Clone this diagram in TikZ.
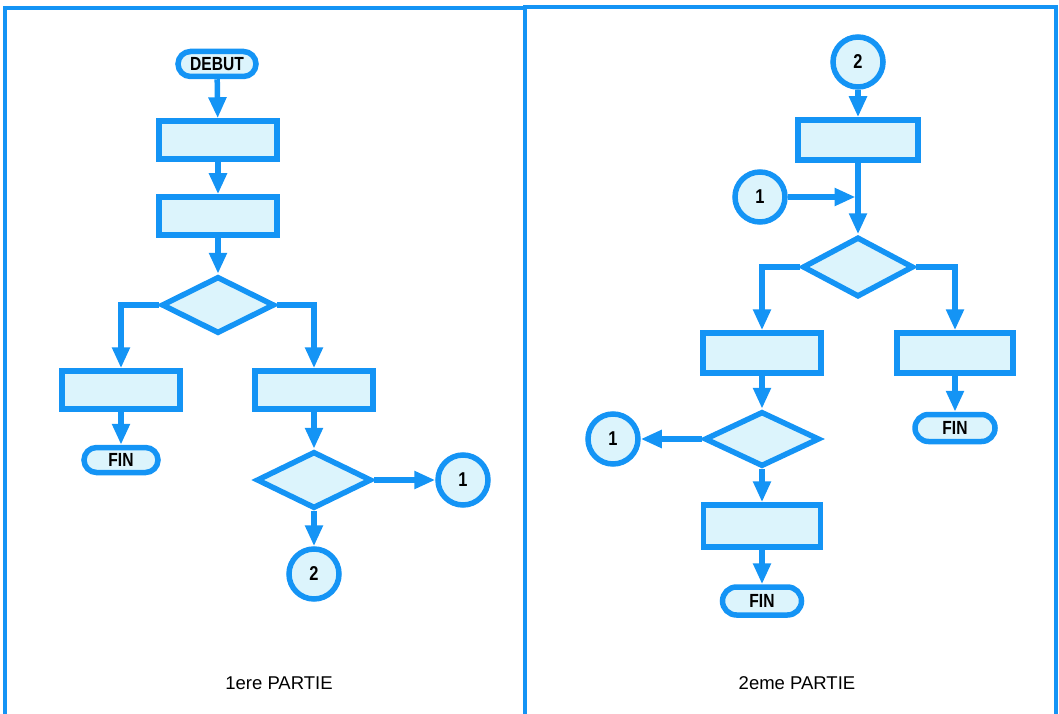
\documentclass[tikz,border=0pt]{standalone}
\usepackage{fontspec}
\setmainfont{Liberation Sans}
\newfontfamily\labfont[FakeStretch=0.82]{Liberation Sans}
\usetikzlibrary{shapes.geometric,shapes.misc,arrows.meta}
\definecolor{fcblue}{RGB}{20,148,245}
\definecolor{fcfill}{RGB}{220,244,252}
\begin{document}
\begin{tikzpicture}[x=1pt,y=-1pt,
  flow/.style={draw=fcblue,line width=5.5pt,fill=fcfill},
  procbox/.style={flow,rectangle,minimum width=118pt,minimum height=38pt,inner sep=0pt},
  decision/.style={flow,diamond,inner sep=0pt,minimum width=113pt,minimum height=57pt},
  term/.style={flow,rounded rectangle,inner sep=0pt,minimum height=25pt,
    font=\labfont\bfseries\fontsize{19}{19}\selectfont},
  conn/.style={flow,circle,minimum size=50pt,inner sep=0pt,
    font=\labfont\bfseries\fontsize{20}{20}\selectfont},
  arr/.style={draw=fcblue,line width=5.5pt,-{Triangle[length=21pt,width=17pt]}},
  frame/.style={draw=fcblue,line width=4.5pt,line join=miter},
  caption/.style={font=\fontsize{18.5}{18.5}\selectfont}
]
\useasboundingbox (0,0) rectangle (1059,714);
% frame
\draw[frame] (5,714) -- (5,8) -- (525,8);
\draw[frame] (525,714) -- (525,7) -- (1056,7) -- (1056,714);

% ---- 1ere partie ----
\node[term,minimum width=78pt] (debut) at (217,64) {DEBUT};
\node[procbox] (b1) at (218,140) {};
\node[procbox] (b2) at (218,216) {};
\node[decision] (d1) at (218,305) {};
\node[procbox] (b3) at (121,390) {};
\node[procbox] (b4) at (314,390) {};
\node[term,minimum width=74pt] (fin1) at (121,460) {FIN};
\node[decision,minimum width=115pt] (d2) at (314,480) {};
\node[conn] (c1) at (463,480) {1};
\node[conn] (c2) at (314,574) {2};
\node[caption] (cap1) at (279,683) {1ere PARTIE};

\draw[arr] (debut) -- (b1);
\draw[arr] (b1) -- (b2);
\draw[arr] (b2) -- (d1.north);
\draw[arr] (d1.west) -| (b3.north);
\draw[arr] (d1.east) -| (b4.north);
\draw[arr] (b3) -- (fin1);
\draw[arr] (b4) -- (d2.north);
\draw[arr] (d2.east) -- (c1);
\draw[arr] (d2.south) -- (c2);

% ---- 2eme partie ----
\node[conn] (r2) at (858,62) {2};
\node[procbox,minimum width=120pt,minimum height=40pt] (b5) at (858,140) {};
\node[conn] (r1) at (760,197) {1};
\coordinate (j) at (858,197);
\node[decision,minimum width=111pt,minimum height=60pt] (d3) at (858,267) {};
\node[procbox,minimum height=40pt] (b6) at (762,353) {};
\node[procbox,minimum width=116pt,minimum height=40pt] (b7) at (955,353) {};
\node[term,minimum width=80pt,minimum height=27pt] (fin2) at (955,428) {FIN};
\node[decision,minimum width=115pt,minimum height=55pt] (d4) at (762,439) {};
\node[conn] (r1b) at (613,439) {1};
\node[procbox,minimum width=117pt,minimum height=42pt] (b8) at (762,526) {};
\node[term,minimum width=79pt,minimum height=28pt] (fin3) at (762,601) {FIN};
\node[caption] (cap2) at (797,683) {2eme PARTIE};

\draw[arr] (r2) -- (b5);
\draw[arr] (b5) -- (d3.north);
\draw[arr,shorten >=2.5pt] (r1) -- (j);
\draw[arr] (d3.west) -| (b6.north);
\draw[arr] (d3.east) -| (b7.north);
\draw[arr] (b7) -- (fin2);
\draw[arr] (b6) -- (d4.north);
\draw[arr] (d4.west) -- (r1b);
\draw[arr] (d4.south) -- (b8);
\draw[arr] (b8) -- (fin3);
\end{tikzpicture}
\end{document}
